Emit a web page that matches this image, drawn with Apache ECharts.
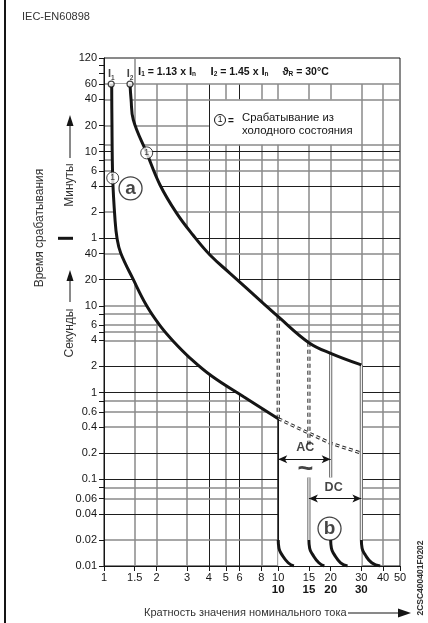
<!DOCTYPE html>
<html>
<head>
<meta charset="utf-8">
<script src="https://cdn.jsdelivr.net/npm/echarts@6.0.0/dist/echarts.min.js"></script>
<style>
html,body{margin:0;padding:0;background:#fff;}
#chart{width:428px;height:623px;}
</style>
</head>
<body>
<div id="chart"></div>
<script>
// ---------------- data (x = multiple of rated current, y = time in seconds) ----------------
const xTickValues = [1, 1.5, 2, 3, 4, 5, 6, 8, 10, 15, 20, 30, 40, 50];
const xBoldValues = [10, 15, 20, 30];
const yLabelValues = [0.01, 0.02, 0.04, 0.06, 0.1, 0.2, 0.4, 0.6, 1, 2, 4, 6, 10, 20, 40, 60, 120, 240, 360, 600, 1200, 2400, 3600, 7200];
const yExtraTickValues = [4800, 6000];
const xGridValues = [1.5, 2, 3, 4, 5, 6, 8, 10, 15, 20, 30, 40];
const yGridValues = [0.02, 0.04, 0.06, 0.08, 0.1, 0.2, 0.4, 0.6, 0.8, 1, 2, 4, 5, 6, 8, 10, 20, 40, 60, 120, 240, 360, 480, 600, 720, 1200, 2400, 3600];

const curveA = [[1.107, 3600], [1.11, 1500], [1.122, 298], [1.157, 98], [1.188, 60], [1.247, 40.6], [1.467, 20.4], [1.758, 10], [2.097, 5.9], [2.49, 3.93], [3.117, 2.5], [4.15, 1.55], [6.3, 0.9], [10, 0.5]];
const curveB = [[1.41, 3600], [1.43, 2400], [1.473, 1390], [1.758, 580], [2.097, 247], [2.61, 117], [3.24, 65.5], [4.06, 38.5], [5.29, 23.7], [6.6, 15.9], [8.21, 10.7], [10, 7.5], [15, 3.76], [20, 2.83], [30, 2.08]];

const dashedLow = [[10, 0.5], [15, 0.34], [20, 0.26], [30, 0.2]];
const dashedAt10 = [[10, 7.5], [10, 0.5]];
const dashedAt15 = [[15, 3.76], [15, 0.25]];
const solidAt10 = [[10, 0.5], [10, 0.02]];
const doubleAt15 = [[15, 0.105], [15, 0.02]];
const doubleAt20 = [[20, 2.83], [20, 0.105]];
const doubleAt30 = [[30, 2.08], [30, 0.02]];
const arc10 = [[10, 0.02], [10.1, 0.016], [10.45, 0.0137], [11.4, 0.0109], [12.3, 0.01]];
const arc15 = [[15, 0.02], [15.15, 0.016], [15.7, 0.0137], [17.1, 0.0109], [18.4, 0.01]];
const arc20 = [[20, 0.02], [20.2, 0.016], [20.9, 0.0137], [22.8, 0.0109], [25, 0.01]];
const arc30 = [[30, 0.02], [30.3, 0.016], [31.4, 0.0137], [34.4, 0.0109], [38.5, 0.01]];
const acArrow = [[10, 0.17], [20, 0.17]];
const dcArrow = [[15, 0.06], [30, 0.06]];

const startPoints = [[1.1, 3600, '1'], [1.41, 3600, '2']];
const coldMarks = [[1.122, 298], [1.758, 580]];
const curveTags = [[1.42, 226, 'a'], [19.7, 0.027, 'b']];
const acTextPos = [14.3, 0.235];
const acSymbolPos = [14.3, 0.128];
const dcTextPos = [20.8, 0.08];
const dcSymbolPos = [20.8, 0.047];

const legendBoxX = [4, 30];
const legendBoxY = [720, 2400];
const topBandY = 3600;
const twentyMinEndX = 4;
const darkXGrid = [4, 6];
const darkYGrid = [0.04, 0.1, 0.2, 1, 2, 20, 60, 240, 600];

// ---------------- build ----------------
const FONT = '"Liberation Sans", Arial, Helvetica, sans-serif';
const INK = '#151515';
const X_MIN = 1, X_MAX = 50, Y_MIN = 0.01, Y_MAX = 7200;

function clean(v) { return +Number(v).toPrecision(6); }

const gridSegs = [];
function addSeg(x1, y1, x2, y2, dark) {
  gridSegs.push([
    { coord: [x1, y1], lineStyle: { color: dark ? '#1e1e1e' : '#8a8a8a', width: dark ? 1 : 1.5, type: 'solid' } },
    { coord: [x2, y2] }
  ]);
}
xGridValues.forEach(function (v) {
  const dark = darkXGrid.indexOf(v) >= 0;
  const top = v < 2 ? Y_MAX : topBandY;
  if (v > legendBoxX[0] && v < legendBoxX[1]) {
    addSeg(v, Y_MIN, v, legendBoxY[0], dark);
    addSeg(v, legendBoxY[1], v, top, dark);
  } else {
    addSeg(v, Y_MIN, v, top, dark);
  }
});
yGridValues.forEach(function (v) {
  const dark = darkYGrid.indexOf(v) >= 0;
  const right = v === 1200 ? twentyMinEndX : X_MAX;
  addSeg(X_MIN, v, right, v, dark);
});

function lineSeries(data, color, width, type, z, smooth) {
  return {
    type: 'line', data: data, showSymbol: false, symbol: 'none', silent: true, z: z,
    smooth: smooth || false, animation: false,
    lineStyle: { color: color, width: width, type: type || 'solid', cap: 'butt' }
  };
}

const series = [];
// grid lines
series.push({
  type: 'line', data: [], z: 1, silent: true, animation: false,
  markLine: { z: 1, silent: true, symbol: ['none', 'none'], label: { show: false }, animation: false,
    emphasis: { disabled: true }, data: gridSegs }
});
// white band between the curves
series.push({
  type: 'custom', z: 2, silent: true, animation: false, clip: false,
  data: [[1, 1]],
  renderItem: function (params, api) {
    const pts = [];
    curveB.forEach(function (d) { pts.push(api.coord(d)); });
    pts.push(api.coord([curveB[curveB.length - 1][0], Y_MIN]));
    pts.push(api.coord([curveA[curveA.length - 1][0], Y_MIN]));
    curveA.slice().reverse().forEach(function (d) { pts.push(api.coord(d)); });
    return { type: 'polygon', shape: { points: pts }, style: { fill: '#ffffff' } };
  }
});
// dashed double lines
[dashedLow, dashedAt10, dashedAt15].forEach(function (d) {
  series.push(lineSeries(d, '#2a2a2a', 3.2, [4, 3], 3));
  series.push(lineSeries(d, '#ffffff', 1.1, [4, 3], 3));
});
// solid double lines
[doubleAt15, doubleAt20, doubleAt30].forEach(function (d) {
  series.push(lineSeries(d, '#6e6e6e', 3.2, 'solid', 3));
  series.push(lineSeries(d, '#ffffff', 1.1, 'solid', 3));
});
series.push(lineSeries(solidAt10, INK, 1.6, 'solid', 3));
// arcs
[arc10, arc15, arc20, arc30].forEach(function (d) {
  series.push(lineSeries(d, INK, 3, 'solid', 4, 0.5));
});
// main curves
series.push(lineSeries(curveA, INK, 3, 'solid', 4, 0.4));
series.push(lineSeries(curveB, INK, 3, 'solid', 4, 0.4));
// AC / DC arrows
series.push({
  type: 'line', data: [], z: 5, silent: true, animation: false,
  markLine: { z: 6, silent: true, symbol: ['arrow', 'arrow'], symbolSize: [6, 9], label: { show: false }, animation: false,
    emphasis: { disabled: true },
    lineStyle: { color: INK, width: 1.2, type: 'solid' },
    data: [[{ coord: acArrow[0] }, { coord: acArrow[1] }], [{ coord: dcArrow[0] }, { coord: dcArrow[1] }]] }
});
// start circles with I1 / I2
series.push({
  type: 'scatter', z: 6, silent: true, animation: false,
  data: startPoints, symbol: 'circle', symbolSize: 6,
  itemStyle: { color: '#fff', borderColor: INK, borderWidth: 1.2 },
  label: { show: true, position: 'top', distance: 1,
    formatter: function (p) { return '{I|I}{s|' + p.data[2] + '}'; },
    rich: { I: { fontFamily: FONT, fontSize: 11, fontWeight: 'bold', color: INK },
            s: { fontFamily: FONT, fontSize: 6.5, fontWeight: 'bold', color: INK, verticalAlign: 'bottom', padding: [0, 0, -2, 0] } } }
});
// cold-state marks (1)
series.push({
  type: 'scatter', z: 6, silent: true, animation: false,
  data: coldMarks, symbol: 'circle', symbolSize: 12,
  itemStyle: { color: '#fff', borderColor: INK, borderWidth: 1 },
  label: { show: true, position: 'inside', formatter: '1', fontFamily: FONT, fontSize: 8.5, color: INK }
});
// circled a / b
series.push({
  type: 'scatter', z: 6, silent: true, animation: false,
  data: curveTags, symbol: 'circle', symbolSize: 23,
  itemStyle: { color: '#fff', borderColor: INK, borderWidth: 1.3 },
  label: { show: true, position: 'inside', formatter: function (p) { return p.data[2]; },
    fontFamily: FONT, fontSize: 19, fontWeight: 'bold', color: INK }
});
// AC / DC texts
series.push({
  type: 'scatter', z: 6, silent: true, animation: false, symbolSize: 1, itemStyle: { color: 'rgba(0,0,0,0)' },
  data: [
    { value: acTextPos, label: { formatter: 'AC' } },
    { value: dcTextPos, label: { formatter: 'DC' } },
    { value: acSymbolPos, label: { formatter: '~', fontSize: 27 } }
  ],
  label: { show: true, position: 'inside', fontFamily: FONT, fontSize: 12.5, fontWeight: 'bold', color: INK }
});

const yTickValues = [Y_MIN].concat(yGridValues, yExtraTickValues, [Y_MAX]);

const option = {
  animation: false,
  backgroundColor: '#fff',
  grid: { left: 104, right: 28, top: 58, bottom: 57, show: true, borderColor: INK, borderWidth: 1, backgroundColor: 'transparent' },
  xAxis: {
    type: 'log', logBase: 10, min: X_MIN, max: X_MAX, z: 8,
    axisLine: { lineStyle: { color: INK, width: 1 } },
    axisTick: { show: true, length: 5, customValues: xTickValues, lineStyle: { color: INK, width: 1 } },
    splitLine: { show: false }, minorTick: { show: false },
    axisLabel: {
      customValues: xTickValues, margin: 6, color: INK, fontFamily: FONT, fontSize: 11, lineHeight: 12,
      formatter: function (v) {
        const s = String(clean(v));
        return xBoldValues.indexOf(clean(v)) >= 0 ? s + '\n{b|' + s + '}' : s;
      },
      rich: { b: { fontFamily: FONT, fontSize: 11.5, fontWeight: 'bold', color: INK, lineHeight: 12 } }
    }
  },
  yAxis: {
    type: 'log', logBase: 10, min: Y_MIN, max: Y_MAX, z: 8,
    axisLine: { lineStyle: { color: INK, width: 1 } },
    axisTick: { show: true, length: 5, customValues: yTickValues, lineStyle: { color: INK, width: 1 } },
    splitLine: { show: false }, minorTick: { show: false },
    axisLabel: {
      customValues: yLabelValues, margin: 7, color: INK, fontFamily: FONT, fontSize: 11,
      formatter: function (v) {
        const s = clean(v);
        return s >= 60 ? String(Math.round(s / 60)) : String(s);
      }
    }
  },
  series: series,
  graphic: { elements: [] }
};

const chart = echarts.init(document.getElementById('chart'), null, { renderer: 'canvas' });
chart.setOption(option);

// ---------- decorations (texts around the chart) ----------
const els = [];
els.push({ type: 'line', shape: { x1: 5, y1: 0, x2: 5, y2: 623 }, style: { stroke: INK, lineWidth: 2 } });
els.push({ type: 'text', x: 22, y: 17, style: { text: 'IEC-EN60898', font: '11px ' + FONT, fill: '#333', verticalAlign: 'middle' } });
els.push({ type: 'text', x: 40, y: 228, rotation: Math.PI / 2,
  style: { text: 'Время срабатывания', font: '12px ' + FONT, fill: '#333', align: 'center', verticalAlign: 'middle' } });
els.push({ type: 'text', x: 70, y: 185, rotation: Math.PI / 2,
  style: { text: 'Минуты', font: '12px ' + FONT, fill: '#333', align: 'center', verticalAlign: 'middle' } });
els.push({ type: 'text', x: 70, y: 333, rotation: Math.PI / 2,
  style: { text: 'Секунды', font: '12px ' + FONT, fill: '#333', align: 'center', verticalAlign: 'middle' } });
els.push({ type: 'line', shape: { x1: 70, y1: 158, x2: 70, y2: 124 }, style: { stroke: INK, lineWidth: 1 } });
els.push({ type: 'polygon', shape: { points: [[70, 115], [66.5, 126], [73.5, 126]] }, style: { fill: INK } });
els.push({ type: 'line', shape: { x1: 70, y1: 302, x2: 70, y2: 280 }, style: { stroke: INK, lineWidth: 1 } });
els.push({ type: 'polygon', shape: { points: [[70, 270], [66.5, 281], [73.5, 281]] }, style: { fill: INK } });
els.push({ type: 'rect', shape: { x: 58, y: 236.8, width: 15, height: 3 }, style: { fill: INK } });
els.push({ type: 'text', x: 144, y: 613,
  style: { text: 'Кратность значения номинального тока', font: '11px ' + FONT, fill: '#333', verticalAlign: 'middle' } });
els.push({ type: 'line', shape: { x1: 348, y1: 613, x2: 400, y2: 613 }, style: { stroke: INK, lineWidth: 1.2 } });
els.push({ type: 'polygon', shape: { points: [[411, 613], [398, 608.5], [398, 617.5]] }, style: { fill: INK } });
els.push({ type: 'text', x: 421, y: 578, rotation: Math.PI / 2,
  style: { text: '2CSC400401F0202', font: 'bold 8.5px ' + FONT, fill: '#333', align: 'center', verticalAlign: 'middle' } });
// header line (three groups)
const headRich = {
  t: { fontFamily: FONT, fontSize: 10.5, fontWeight: 'bold', fill: INK, lineHeight: 12 },
  I: { fontFamily: FONT, fontSize: 11.5, fontWeight: 'bold', fill: INK, lineHeight: 12 },
  s: { fontFamily: FONT, fontSize: 6.5, fontWeight: 'bold', fill: INK, lineHeight: 12, verticalAlign: 'bottom' }
};
[[138, '{I|I}{s|1}{t| = 1.13 x }{I|I}{s|n}'], [210.5, '{I|I}{s|2}{t| = 1.45 x }{I|I}{s|n}'], [282.5, '{t|ϑ}{s|R}{t| = 30°C}']].forEach(function (g) {
  els.push({ type: 'text', x: g[0], y: 72, style: { text: g[1], verticalAlign: 'middle', rich: headRich } });
});
// legend in box
els.push({ type: 'circle', shape: { cx: 220, cy: 120, r: 5.5 }, style: { fill: '#fff', stroke: INK, lineWidth: 1 } });
els.push({ type: 'text', x: 220, y: 120, style: { text: '1', font: '8.5px ' + FONT, fill: INK, align: 'center', verticalAlign: 'middle' } });
els.push({ type: 'text', x: 228, y: 121, style: { text: '=', font: 'bold 10px ' + FONT, fill: INK, verticalAlign: 'middle' } });
els.push({ type: 'text', x: 242, y: 118, style: { text: 'Срабатывание из', font: '11.3px ' + FONT, fill: INK, verticalAlign: 'middle' } });
els.push({ type: 'text', x: 242, y: 131, style: { text: 'холодного состояния', font: '11.3px ' + FONT, fill: INK, verticalAlign: 'middle' } });
// DC symbol (solid bar over dashed bar) positioned through the axes
const dcP = chart.convertToPixel({ xAxisIndex: 0, yAxisIndex: 0 }, dcSymbolPos);
els.push({ type: 'line', shape: { x1: dcP[0] - 8, y1: dcP[1] - 2, x2: dcP[0] + 8, y2: dcP[1] - 2 }, style: { stroke: INK, lineWidth: 1.8 } });
els.push({ type: 'line', shape: { x1: dcP[0] - 8, y1: dcP[1] + 2, x2: dcP[0] + 8, y2: dcP[1] + 2 }, style: { stroke: INK, lineWidth: 1.8, lineDash: [4, 2] } });

chart.setOption({ graphic: { elements: els } });
</script>
</body>
</html>
